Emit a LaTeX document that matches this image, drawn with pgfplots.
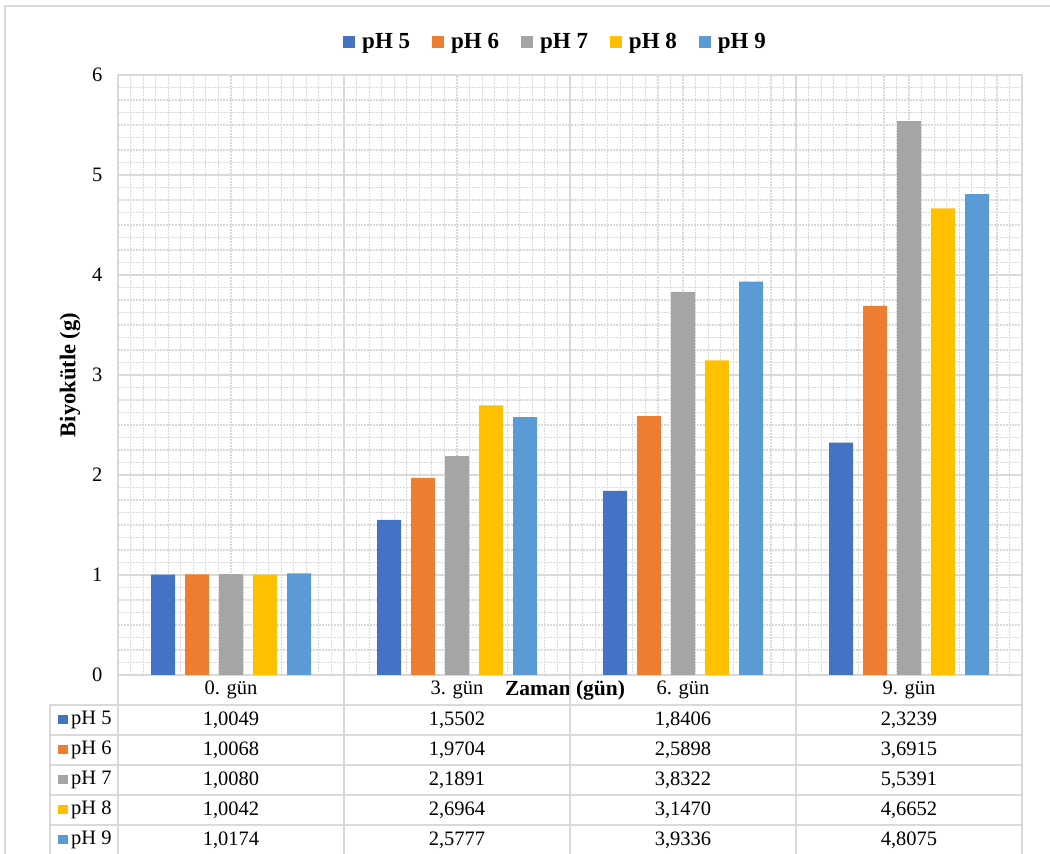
\documentclass[border=0pt]{standalone}
\usepackage{pgfplots}
\pgfplotsset{compat=1.18}
\usepackage{pgfplotstable}
\usepackage{fontspec}
\setmainfont{Liberation Serif}

\definecolor{cA}{HTML}{4472C4}
\definecolor{cB}{HTML}{ED7D31}
\definecolor{cC}{HTML}{A5A5A5}
\definecolor{cD}{HTML}{FFC000}
\definecolor{cE}{HTML}{5B9BD5}
\definecolor{gridgray}{HTML}{D9D9D9}

\newcommand\tabfont{\fontsize{20.5bp}{24bp}\selectfont}
\newcommand\legfont{\fontsize{23bp}{27bp}\selectfont\bfseries}

\pgfkeys{/pgf/number format/assume math mode=true}

% biomass (g) per day and pH
\pgfplotstableread{
x pH5 pH6 pH7 pH8 pH9
0 1.0049 1.0068 1.0080 1.0042 1.0174
1 1.5502 1.9704 2.1891 2.6964 2.5777
2 1.8406 2.5898 3.8322 3.1470 3.9336
3 2.3239 3.6915 5.5391 4.6652 4.8075
}\biomass

\begin{document}
\begin{tikzpicture}[x=1bp,y=1bp]
\path[use as bounding box] (0,0) rectangle (1050,854);
% chart area frame
\draw[gridgray, line width=1.5bp] (5,-10) -- (5,848) -- (1060,848);

\begin{axis}[
  at={(118bp,179bp)}, anchor=south west,
  scale only axis, width=904bp, height=600bp,
  xmin=-0.5, xmax=3.5, ymin=0, ymax=6,
  ybar=10bp, bar width=24bp,
  xtick={-0.5,0.5,1.5,2.5,3.5}, xticklabels={},
  minor x tick num=17,
  ytick={0,1,...,6}, minor y tick num=7,
  major tick length=0, minor tick length=0,
  grid=both,
  major grid style={draw=gridgray, line width=1.5bp},
  minor grid style={draw=gridgray, line width=1.2bp, dash pattern=on 1.5bp off 1.5bp},
  axis line style={draw=gridgray, line width=1.5bp},
  tick label style={font=\tabfont},
  yticklabel style={anchor=east, xshift=-12bp},
  ylabel={Biyokütle (g)},
  ylabel style={font=\fontsize{22.5bp}{26bp}\selectfont\bfseries, at={(axis description cs:-0.0531,0.5)}, anchor=center},
  xlabel={Zaman (gün)},
  xlabel style={font=\fontsize{21.5bp}{26bp}\selectfont\bfseries, at={(axis description cs:0.4945,-0.025)}, anchor=center},
  legend style={at={(axis description cs:0.484,1.055)}, anchor=center, draw=none, fill=none,
    font=\legfont, legend columns=-1,
    /tikz/every odd column/.append style={column sep=5bp},
    /tikz/every even column/.append style={column sep=20bp}},
  legend image code/.code={\path[#1,draw=none] (0bp,-6bp) rectangle (12bp,6bp);},
]
\addplot[fill=cA, draw=none] table[x=x, y=pH5] {\biomass};
\addplot[fill=cB, draw=none] table[x=x, y=pH6] {\biomass};
\addplot[fill=cC, draw=none] table[x=x, y=pH7] {\biomass};
\addplot[fill=cD, draw=none] table[x=x, y=pH8] {\biomass};
\addplot[fill=cE, draw=none] table[x=x, y=pH9] {\biomass};
\legend{pH 5, pH 6, pH 7, pH 8, pH 9}
\end{axis}

% data table below the plot
\begin{scope}[gridgray, line width=1.5bp]
  \foreach \yy in {149,119,89,59,29} \draw (50,\yy) -- (1022,\yy);
  \draw (50,149) -- (50,-10);
  \foreach \xx in {118,344,570,796,1022} \draw (\xx,179) -- (\xx,-10);
\end{scope}
\foreach \lab [count=\c from 0] in {0. gün,3. gün,6. gün,9. gün}
  \node[font=\tabfont, inner sep=0pt] at ({231+226*\c},164) {\lab};
\foreach \s/\col [count=\r from 0] in {pH5/cA,pH6/cB,pH7/cC,pH8/cD,pH9/cE}{
  \fill[\col] (58,{129.5-30*\r}) rectangle (67.5,{138.5-30*\r});
  \node[font=\tabfont, anchor=west, inner sep=0pt] at (71,{134-30*\r}) {pH \pgfmathparse{int(5+\r)}\pgfmathresult};
  \foreach \c in {0,...,3}{
    \pgfplotstablegetelem{\c}{\s}\of\biomass
    \node[font=\tabfont, inner sep=0pt] at ({231+226*\c},{134-30*\r})
      {\pgfmathprintnumber[fixed, fixed zerofill, precision=4, use comma]{\pgfplotsretval}};
  }
}
\end{tikzpicture}
\end{document}
